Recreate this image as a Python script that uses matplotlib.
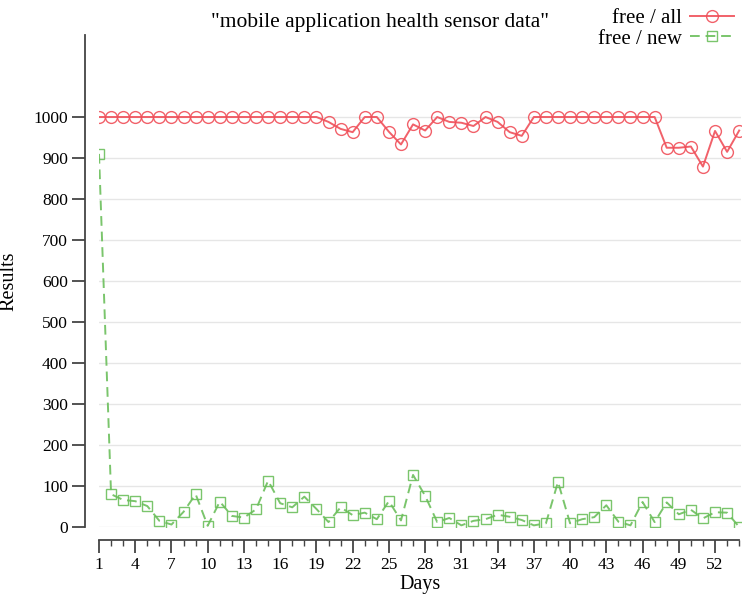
import matplotlib
matplotlib.use("Agg")
import matplotlib.pyplot as plt
from matplotlib.ticker import MultipleLocator

days = list(range(1, 55))
free_all = [1000]*19 + [988, 971, 963, 1000, 1000, 964, 933, 982, 967, 1000,
            988, 986, 978, 1000, 988, 963, 954] + [1000]*11 + [925, 925, 928, 879, 966, 915, 967]
free_new = [910, 80, 66, 63, 51, 15, 6, 37, 80, 3, 62, 27, 23, 43, 113, 58, 48, 74,
            44, 12, 48, 29, 35, 19, 63, 16, 127, 76, 12, 22, 4, 15, 19, 30, 25, 17,
            4, 9, 110, 9, 19, 24, 53, 13, 4, 61, 12, 60, 31, 42, 21, 36, 35, 0]
y_ticks = list(range(0, 1001, 100))
x_ticks = list(range(1, 53, 3))

plt.rcParams['font.family'] = ['Liberation Serif', 'DejaVu Serif']
plt.rcParams['font.size'] = 12.5

fig = plt.figure(figsize=(7.42, 5.94), dpi=100)
ax = fig.add_axes([99/742, 67/594, 642/742, 492/594])

PX = 72/100  # points per pixel

red = '#f0505a'
green = '#6cbf5c'
ax.plot(days, free_all, color=red, lw=1.4, marker='o', ms=8.5, mfc='none',
        mec=red, mew=1.0, label='free / all', alpha=0.9)
ax.plot(days, free_new, color=green, lw=1.4, ls=(0, (5, 3)), marker='s', ms=6.5,
        mfc='none', mec=green, mew=1.0, label='free / new', alpha=0.9)

ax.set_xlim(1, 54.15)
ax.set_ylim(0, 1200)
ax.set_yticks(y_ticks)
ax.set_xticks(x_ticks)
ax.xaxis.set_minor_locator(MultipleLocator(1))
ax.grid(axis='y', color='#e6e6e6', lw=1.0)
ax.set_axisbelow(True)

for s in ['top', 'right']:
    ax.spines[s].set_visible(False)
ax.spines['left'].set_position(('outward', 14*PX))
ax.spines['bottom'].set_position(('outward', 13*PX))
ax.spines['left'].set_bounds(0, 1200)
ax.spines['bottom'].set_bounds(1, 54)
for s in ['left', 'bottom']:
    ax.spines[s].set_color('#444444')
    ax.spines[s].set_linewidth(1.3)
ax.tick_params(axis='both', which='major', length=13*PX, width=1.3, color='#444444',
               labelsize=12.5, pad=4*PX)
ax.tick_params(axis='x', which='minor', length=6*PX, width=1.0, color='#444444')
ax.tick_params(axis='y', which='minor', left=False)

ax.set_xlabel('Days', fontsize=14.5, va='center')
ax.xaxis.set_label_coords(0.5, -(585 - 527) / 492)
ax.set_ylabel('Results', fontsize=14.5)
ax.yaxis.set_label_coords(-0.126, 0.5)
fig.text(380/742, 1 - 22/594, '"mobile application health sensor data"',
         ha='center', va='center', fontsize=15.5)

leg = fig.legend(loc='upper right', bbox_to_anchor=(1.0, 1.0), frameon=False,
                 markerfirst=False, fontsize=15, handlelength=2.1,
                 labelspacing=0.05, handletextpad=0.4, borderaxespad=0.1,
                 borderpad=0.3)

fig.savefig('out.png', dpi=100)
